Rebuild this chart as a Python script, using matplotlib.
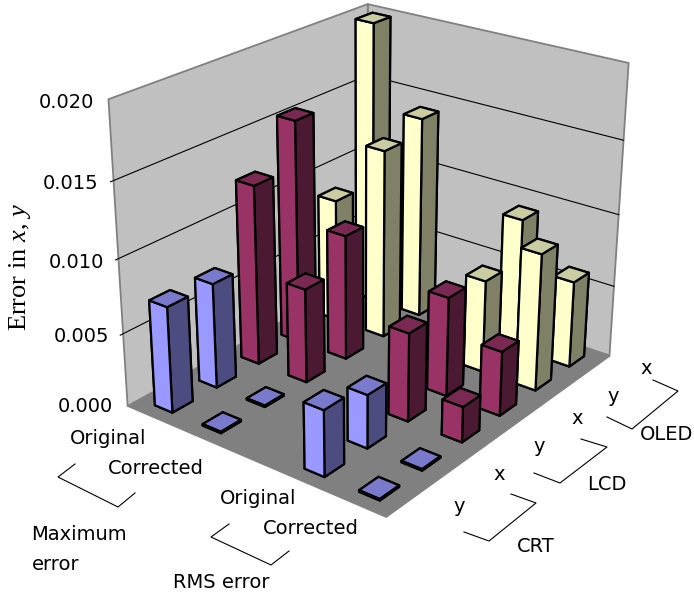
import numpy as np
import matplotlib
matplotlib.use("Agg")
from matplotlib import pyplot as plt
from matplotlib.lines import Line2D
from mpl_toolkits.mplot3d.art3d import Poly3DCollection

plt.rcParams["mathtext.fontset"] = "custom"
plt.rcParams["mathtext.rm"] = "Liberation Serif"
plt.rcParams["mathtext.it"] = "Liberation Serif:italic"

W, H = 694, 597

# order inside each list: CRT y, CRT x, LCD y, LCD x, OLED y, OLED x
original_max = [0.0072, 0.0072, 0.0124, 0.0155, 0.0087, 0.0199]
corrected_max = [0.0001, 0.0001, 0.0065, 0.0087, 0.0132, 0.0142]
original_rms = [0.0044, 0.0036, 0.0060, 0.0068, 0.0064, 0.0092]
corrected_rms = [0.0001, 0.0001, 0.0024, 0.0044, 0.0094, 0.0060]
series_values = [original_max, corrected_max, None, original_rms, corrected_rms]

z_ticks = [0.000, 0.005, 0.010, 0.015, 0.020]
z_tick_labels = ["0.000", "0.005", "0.010", "0.015", "0.020"]

# faces are -z, +z, -y, +y, -x, +x
blue = ["#7A7ACC", "#7A7ACC", "#9999FF", "#9999FF", "#4C4C80", "#4C4C80"]
wine = ["#7A2952", "#7A2952", "#993366", "#993366", "#4C1933", "#4C1933"]
cream = ["#CCCCA3", "#CCCCA3", "#FFFFCC", "#FFFFCC", "#808066", "#808066"]
colors = [blue, blue, wine, wine, cream, cream]

bar_dx = 0.37
bar_dy = 0.45


def px(x, y):
    return x / W, 1 - y / H


L = 590.17
cx, cy = 367.92, 353.02

fig = plt.figure(figsize=(W / 100, H / 100), dpi=100)
ax = fig.add_axes([(cx - L / 2) / W, (cy - L / 2) / H, L / W, L / H], projection="3d")
ax.view_init(elev=24.094, azim=-52.438, roll=-0.215)
ax.set_proj_type("persp", focal_length=0.5479)
ax.set_box_aspect((5, 6 * 1.0012, 6 * 0.8332))
ax.set_axis_off()
ax.computed_zorder = False

# walls and floor
zmax = z_ticks[-1]
wall_left = [[(0, 0, 0), (0, 6, 0), (0, 6, zmax), (0, 0, zmax)]]
wall_back = [[(0, 6, 0), (5, 6, 0), (5, 6, zmax), (0, 6, zmax)]]
floor = [[(0, 0, 0), (5, 0, 0), (5, 6, 0), (0, 6, 0)]]
ax.add_collection3d(Poly3DCollection(wall_left + wall_back, facecolors="#C0C0C0", edgecolors="#808080",
                                     linewidths=1.3, zorder=1))
ax.add_collection3d(Poly3DCollection(floor, facecolors="#808080", edgecolors="#808080", linewidths=0.8, zorder=2))

for z in z_ticks[1:-1]:
    ax.plot([0, 0, 5], [-0.06, 6, 6], [z, z, z], color="black", lw=0.8, zorder=3)

# far bars first
order = 10
for yi in range(5, -1, -1):
    for xi, values in enumerate(series_values):
        if values is None:
            continue
        ax.bar3d(xi + 0.5 - bar_dx / 2, yi + 0.5 - bar_dy / 2, 0, bar_dx, bar_dy, values[yi],
                 color=colors[yi], edgecolor="black", linewidth=1.6, shade=False, zorder=order)
        order += 1

ax.set_xlim(0, 5, view_margin=0)
ax.set_ylim(0, 6, view_margin=0)
ax.set_zlim(0, zmax, view_margin=0)

# tick labels and group labels
font = "DejaVu Sans"
fs = 14
z_label_pos = [(113, 407), (109, 336), (104, 262), (98, 184), (94, 103)]
for label, (x, y) in zip(z_tick_labels, z_label_pos):
    fig.text(*px(x, y), label, ha="right", va="center", fontsize=fs, family=font)

cat_labels = [("Original", 108, 439), ("Corrected", 156, 469), ("Original", 258, 498), ("Corrected", 311, 529),
              ("y", 459, 506), ("x", 499, 474), ("y", 539, 447), ("x", 577, 418), ("y", 613, 396), ("x", 646, 369),
              ("Maximum", 79, 535), ("error", 56, 565), ("RMS error", 221, 583),
              ("CRT", 536, 547), ("LCD", 607, 485), ("OLED", 667, 434)]
for label, x, y in cat_labels:
    fig.text(*px(x, y), label, ha="center", va="center", fontsize=fs, family=font)

fig.text(*px(20, 267), r"Error in $\mathit{x}$, $\mathit{y}$", rotation=90, ha="center", va="center",
         fontsize=19, family="Liberation Serif")

# brackets
brackets = [[(75, 464), (58, 477), (118, 507), (135, 493)],
            [(229, 524), (211, 537), (271, 565), (289, 551)],
            [(511, 494), (536, 503), (489, 541), (464, 532)],
            [(581, 439), (607, 447), (560, 483), (534, 473)],
            [(653, 380), (678, 391), (632, 429), (607, 417)]]
for b in brackets:
    xs = [p[0] / W for p in b]
    ys = [1 - p[1] / H for p in b]
    fig.add_artist(Line2D(xs, ys, color="black", lw=0.8))

fig.savefig("out.png")
